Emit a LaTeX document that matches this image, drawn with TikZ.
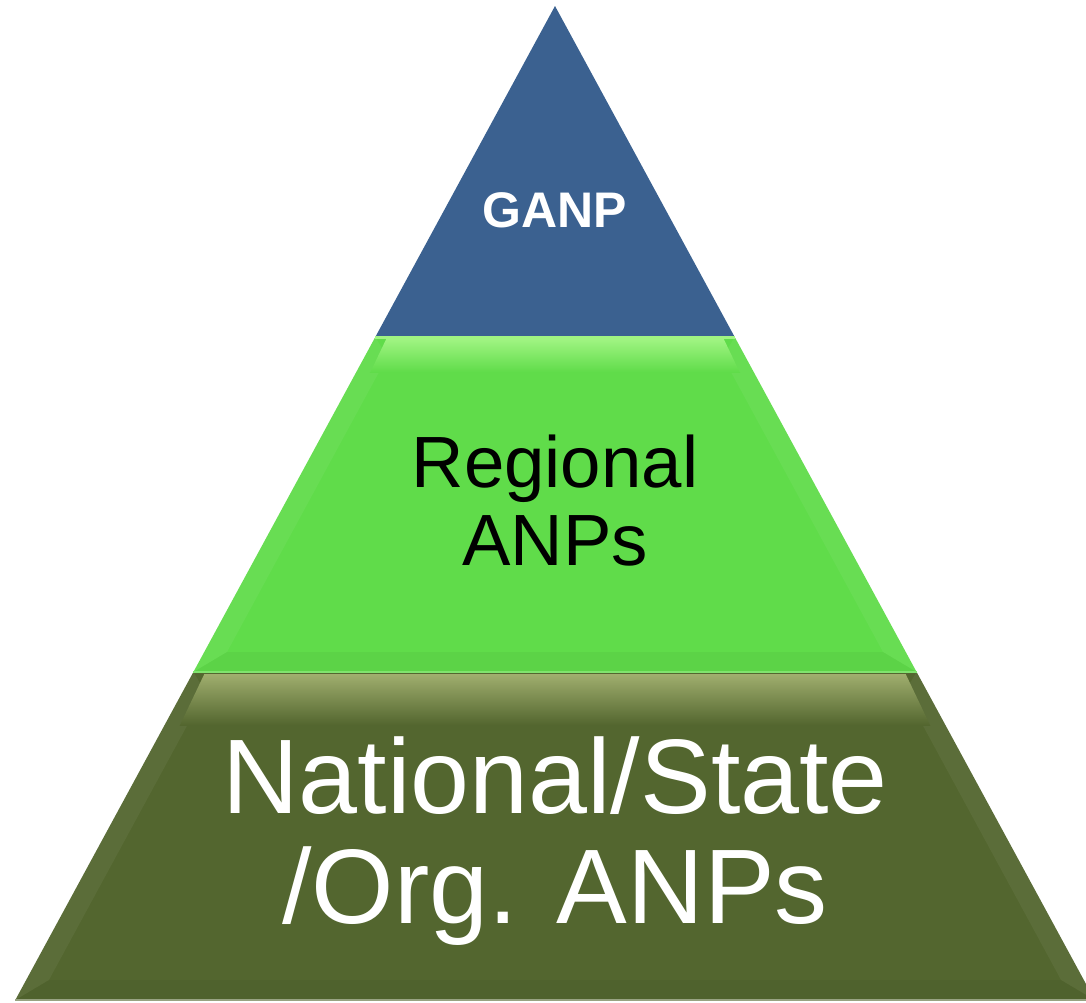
\documentclass[tikz,border=0pt]{standalone}
\usepackage{fontspec}
\setmainfont{Liberation Sans}
\definecolor{ganpblue}{RGB}{59,97,144}
\definecolor{regiongreen}{RGB}{96,220,74}
\definecolor{regionlight}{RGB}{160,244,130}
\definecolor{natolive}{RGB}{83,102,47}
\definecolor{natlight}{RGB}{160,174,110}
\tikzset{
  sidebevel/.style={fill=white, fill opacity=0.05},
  lowbevel/.style={fill=black, fill opacity=0.04}
}
\begin{document}
\begin{tikzpicture}[x=0.5pt,y=-0.5pt, line join=round]

\def\w{1086} \def\h{1002}
\useasboundingbox (0,0) rectangle (\w,\h);
\clip (0,0) rectangle (\w,\h);

\coordinate (apex) at (555,6);
\coordinate (l1) at (375.3,337); \coordinate (r1) at (734.7,337);
\coordinate (l2) at (193.4,672); \coordinate (r2) at (916.6,672);
\coordinate (l3) at (15.3,1000); \coordinate (r3) at (1094.7,1000);

% layers
\fill[ganpblue] (apex)--(r1)--(l1)--cycle;
\fill[regiongreen] (l1)--(r1)--(r2)--(l2)--cycle;
\fill[natolive] (l2)--(r2)--(r3)--(l3)--cycle;

% bevels of the middle layer
\fill[sidebevel] (l1)--(387.2,357)--(227,652)--(l2)--cycle;
\fill[sidebevel] (r1)--(722.8,357)--(883,652)--(r2)--cycle;
\fill[lowbevel] (l2)--(227,652)--(883,652)--(r2)--cycle;
\begin{scope}
  \clip (387.2,337)--(722.8,337)--(883,672)--(227,672)--cycle;
  \shade[top color=regionlight, bottom color=regiongreen] (0,339) rectangle (\w,372);
\end{scope}
\draw[regionlight, line width=1.5pt] (l1)--(r1);

% bevels of the bottom layer
\fill[sidebevel] (l2)--(205.3,692)--(48.9,980)--(l3)--cycle;
\fill[sidebevel] (r2)--(904.7,692)--(1061.1,980)--(r3)--cycle;
\fill[lowbevel] (l3)--(48.9,980)--(1061.1,980)--(r3)--cycle;
\begin{scope}
  \clip (205.3,672)--(904.7,672)--(1061.1,1000)--(48.9,1000)--cycle;
  \shade[top color=natlight, bottom color=natolive] (0,674) rectangle (\w,725);
\end{scope}
\draw[regiongreen!80!white, line width=1pt] (l2)--(r2);
\draw[natolive!60!white, line width=1pt] (l3)--(r3);

% labels (base = last line)
\node[white, font=\bfseries\fontsize{25}{30}\selectfont, anchor=base] (ganp) at (555,227) {GANP};
\node[black, font=\fontsize{36.3}{39}\selectfont, align=center, anchor=base] (regional) at (555,565) {Regional\\ANPs};
\node[white, font=\fontsize{53}{55}\selectfont, align=center, anchor=base] (national) at (555,923) {National/State\\/Org. ANPs};

\end{tikzpicture}
\end{document}
